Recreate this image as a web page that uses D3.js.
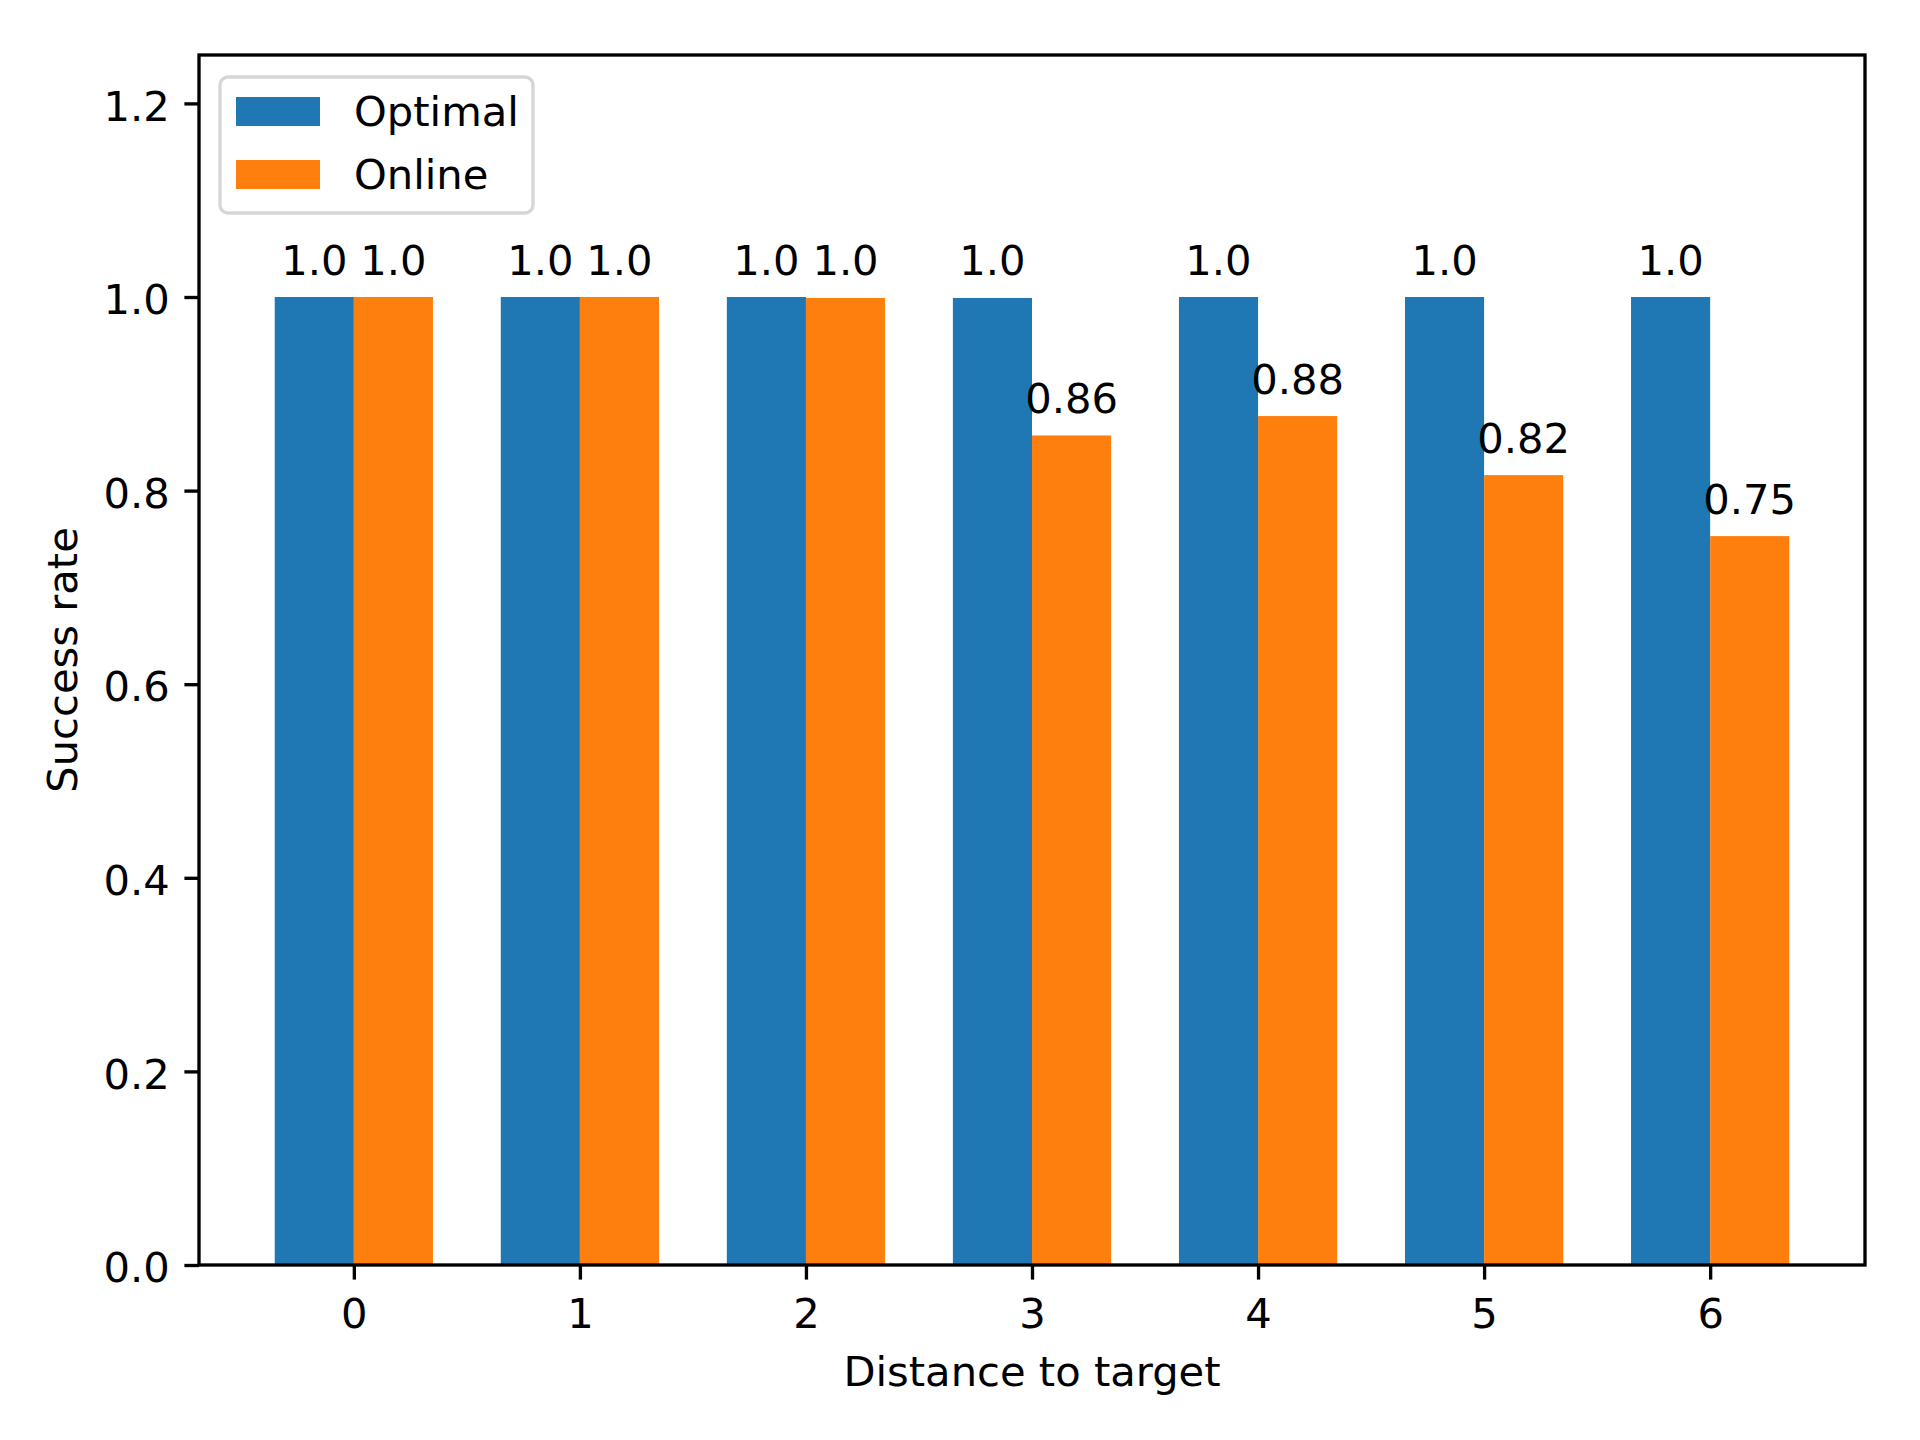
<!DOCTYPE html>
<html lang="en">
<head>
  <meta charset="UTF-8" />
  <title>Success rate by distance</title>
  <script src="https://d3js.org/d3.v7.min.js"></script>
  <style>
    html, body {
      margin: 0;
      padding: 0;
      background: #fff;
      overflow: hidden;
    }
    svg {
      display: block;
      font-family: 'DejaVu Sans', sans-serif;
    }
  </style>
</head>
<body>
  <svg width="1920" height="1440"></svg>

  <script>
    // data
    const distances = [0, 1, 2, 3, 4, 5, 6];
    const optimal = [1.0, 1.0, 1.0, 0.999, 1.0, 1.0, 1.0];
    const online = [1.0, 1.0, 0.999, 0.857, 0.877, 0.816, 0.753];
    const seriesNames = ["Optimal", "Online"];
    const seriesColors = ["#1f77b4", "#ff7f0e"];
    const yTicks = [0, 0.2, 0.4, 0.6, 0.8, 1.0, 1.2];

    const fontSize = 41.67;          // 10pt @ 300dpi
    const lw = 3.33;                 // 0.8pt
    const tickLen = 14.6;
    const barWidth = 0.35;

    const plot = { left: 199, right: 1865, top: 55, bottom: 1265 };

    const svg = d3.select("svg");

    const x = d3.scaleLinear()
      .domain([-0.685, 6.685])
      .range([plot.left, plot.right]);

    const y = d3.scaleLinear()
      .domain([0, 1.25])
      .range([plot.bottom, plot.top]);

    // python style str(round(v, 2))
    const fmt = v => {
      const r = Math.round(v * 100) / 100;
      return Number.isInteger(r) ? r.toFixed(1) : String(r);
    };

    const series = [optimal, online];

    // bars
    series.forEach((vals, s) => {
      const offset = s === 0 ? -barWidth : 0;
      svg.append("g")
        .selectAll("rect")
        .data(vals)
        .enter()
        .append("rect")
        .attr("x", (d, i) => x(distances[i] + offset))
        .attr("width", x(barWidth) - x(0))
        .attr("y", d => y(d))
        .attr("height", d => y(0) - y(d))
        .attr("fill", seriesColors[s]);
    });

    // value labels
    series.forEach((vals, s) => {
      const offset = s === 0 ? -barWidth / 2 : barWidth / 2;
      svg.append("g")
        .selectAll("text")
        .data(vals)
        .enter()
        .append("text")
        .attr("x", (d, i) => x(distances[i] + offset))
        .attr("y", d => y(d) - 22.5)
        .attr("text-anchor", "middle")
        .style("font-size", fontSize + "px")
        .text(d => fmt(d));
    });

    // axes
    const xAxis = svg.append("g")
      .attr("transform", `translate(0,${plot.bottom})`)
      .call(d3.axisBottom(x).tickValues(distances).tickFormat(d3.format("d"))
        .tickSize(tickLen).tickPadding(tickLen));

    const yAxis = svg.append("g")
      .attr("transform", `translate(${plot.left},0)`)
      .call(d3.axisLeft(y).tickValues(yTicks).tickFormat(d3.format(".1f"))
        .tickSize(tickLen).tickPadding(tickLen));

    [xAxis, yAxis].forEach(a => {
      a.select(".domain").remove();
      a.selectAll(".tick line").attr("stroke", "#000").attr("stroke-width", lw);
      a.selectAll(".tick text")
        .attr("fill", "#000")
        .style("font-size", fontSize + "px")
        .style("font-family", "'DejaVu Sans', sans-serif");
    });
    xAxis.selectAll(".tick text").attr("dy", "0.8em");
    yAxis.selectAll(".tick text").attr("dy", "0.4em");

    // frame
    svg.append("rect")
      .attr("x", plot.left)
      .attr("y", plot.top)
      .attr("width", plot.right - plot.left)
      .attr("height", plot.bottom - plot.top)
      .attr("fill", "none")
      .attr("stroke", "#000")
      .attr("stroke-width", lw);

    // axis titles
    svg.append("text")
      .attr("x", (plot.left + plot.right) / 2)
      .attr("y", 1386)
      .attr("text-anchor", "middle")
      .style("font-size", fontSize + "px")
      .text("Distance to target");

    svg.append("text")
      .attr("transform", `translate(77,${(plot.top + plot.bottom) / 2}) rotate(-90)`)
      .attr("text-anchor", "middle")
      .style("font-size", fontSize + "px")
      .text("Success rate");

    // legend
    const legend = svg.append("g");
    legend.append("rect")
      .attr("x", 220)
      .attr("y", 77)
      .attr("width", 313)
      .attr("height", 136)
      .attr("rx", 8)
      .attr("fill", "#fff")
      .attr("fill-opacity", 0.8)
      .attr("stroke", "#d6d6d6")
      .attr("stroke-width", lw);

    const item = legend.selectAll("g.item")
      .data(seriesNames)
      .enter()
      .append("g")
      .attr("class", "item")
      .attr("transform", (d, i) => `translate(236,${97 + i * 63})`);

    item.append("rect")
      .attr("width", 84)
      .attr("height", 29)
      .attr("fill", (d, i) => seriesColors[i]);

    item.append("text")
      .attr("x", 118)
      .attr("y", 29)
      .style("font-size", fontSize + "px")
      .text(d => d);
  </script>
</body>
</html>
